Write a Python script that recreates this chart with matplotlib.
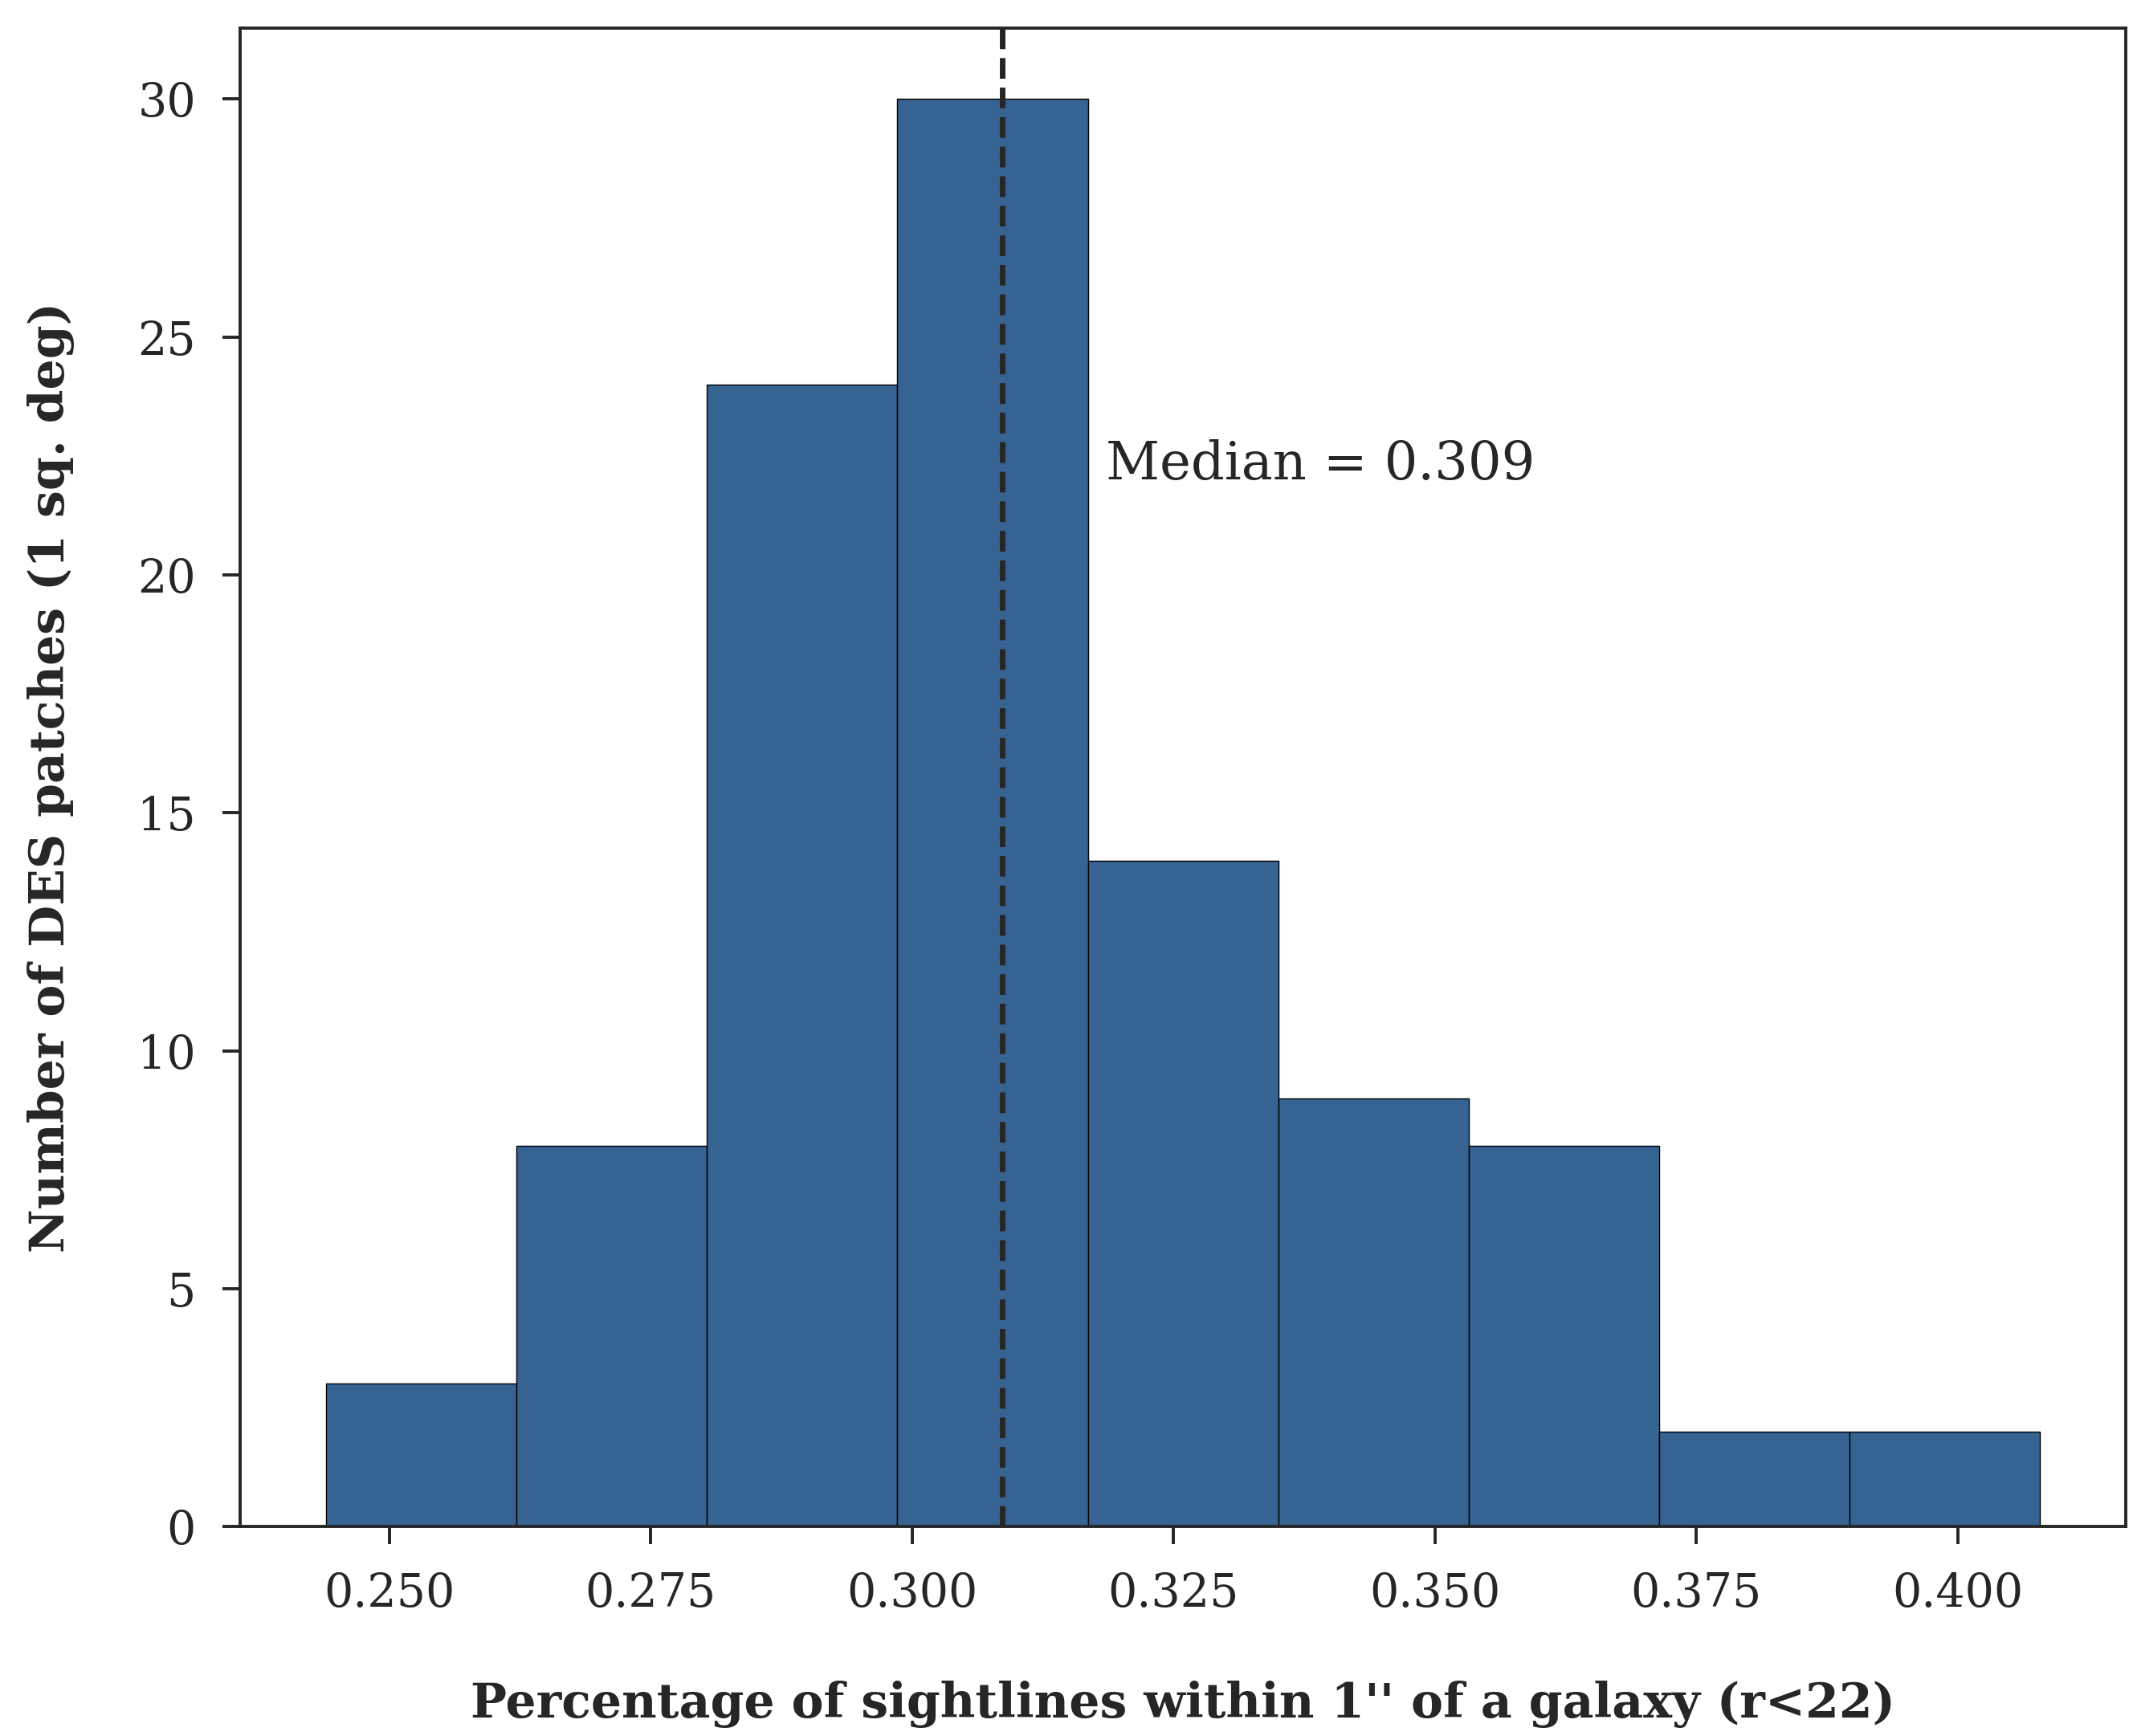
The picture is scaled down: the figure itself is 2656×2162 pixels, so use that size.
import matplotlib
matplotlib.use('Agg')
import matplotlib.pyplot as plt
import seaborn as sns

# histogram
bin_edges = [0.24396, 0.26217, 0.28039, 0.29860, 0.31681,
             0.33503, 0.35324, 0.37145, 0.38967, 0.40788]
counts = [3, 8, 24, 30, 14, 9, 8, 2, 2]
median_value = 0.3086

sns.set_style('ticks')
plt.rcParams['font.family'] = ['DejaVu Serif']

fig = plt.figure(figsize=(13.28, 10.81), dpi=200)
ax = fig.add_axes([0.1127, 0.1207, 0.8839, 0.8633])

ax.hist(bin_edges[:-1], bins=bin_edges, weights=counts,
        color='#366391', edgecolor='black', linewidth=0.5)
ax.axvline(median_value, color='#262626', linestyle='--', linewidth=2.5)
ax.text(0.3185, 22, 'Median = %.3f' % median_value, fontsize=23.6,
        color='#262626', va='baseline')

ax.set_xticks([0.250, 0.275, 0.300, 0.325, 0.350, 0.375, 0.400])
ax.set_xlabel("Percentage of sightlines within 1'' of a galaxy (r<22)",
              fontsize=21.6, fontweight='bold', labelpad=29, color='#262626')
ax.set_ylabel('Number of DES patches (1 sq. deg)',
              fontsize=21.6, fontweight='bold', labelpad=28, color='#262626')
ax.tick_params(labelsize=20.5, length=8, width=1.4, pad=12, colors='#262626')
for sp in ax.spines.values():
    sp.set_linewidth(1.4)
    sp.set_color('#262626')

fig.savefig('out.png', dpi=200)
